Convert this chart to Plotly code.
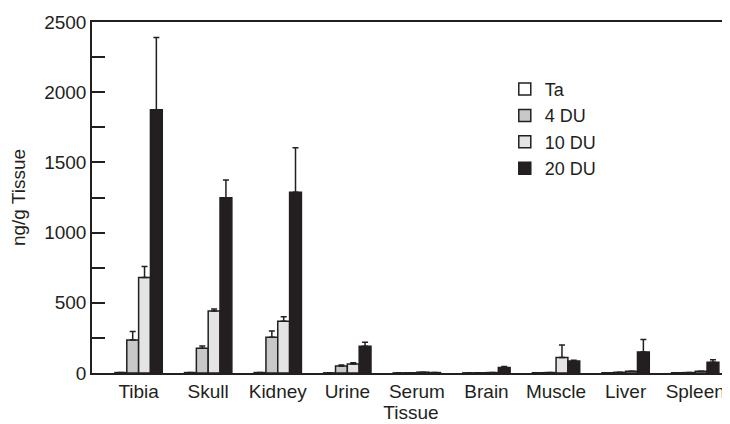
import plotly.graph_objects as go

categories = ["Tibia", "Skull", "Kidney", "Urine", "Serum", "Brain", "Muscle", "Liver", "Spleen"]
series_names = ["Ta", "4 DU", "10 DU", "20 DU"]
ta_vals = [3, 3, 3, 1, 1, 1, 2, 2, 2]
ta_err = [0, 0, 0, 0, 0, 0, 0, 0, 0]
du4_vals = [235, 176, 255, 50, 2, 2, 3, 5, 3]
du4_err = [60, 16, 45, 7, 0, 0, 0, 0, 0]
du10_vals = [680, 441, 368, 64, 6, 3, 110, 12, 12]
du10_err = [78, 15, 33, 9, 0, 0, 90, 0, 0]
du20_vals = [1875, 1248, 1287, 190, 3, 40, 85, 150, 76]
du20_err = [515, 127, 318, 29, 0, 7, 6, 88, 18]
y_ticks = [0, 500, 1000, 1500, 2000, 2500]

fills = ["#ffffff", "#c8c8c8", "#e4e4e5", "#231f20"]
dark = "#231f20"
font_family = "Liberation Sans, Arial, Helvetica, sans-serif"

fig = go.Figure()
for name, vals, errs, col in zip(series_names,
                                 [ta_vals, du4_vals, du10_vals, du20_vals],
                                 [ta_err, du4_err, du10_err, du20_err],
                                 fills):
    fig.add_trace(go.Bar(
        name=name, x=categories, y=vals,
        marker=dict(color=col, line=dict(color=dark, width=1.5)),
        error_y=dict(type="data", array=errs, arrayminus=[0] * len(errs),
                     symmetric=False, color=dark, thickness=1.5, width=3),
    ))

# right-side mirror ticks via an invisible overlay axis
fig.add_trace(go.Scatter(x=[categories[0]], y=[0], yaxis="y2", mode="markers",
                         marker=dict(opacity=0), showlegend=False, hoverinfo="skip"))

fig.update_layout(
    width=722, height=416,
    margin=dict(l=84, r=0, t=14, b=51),
    paper_bgcolor="white", plot_bgcolor="white",
    barmode="group", bargap=0.32, bargroupgap=0,
    font=dict(family=font_family, size=19, color=dark),
    showlegend=True,
    legend=dict(x=0.647, y=0.861, xanchor="left", yanchor="top",
                bgcolor="rgba(0,0,0,0)", font=dict(size=18, color=dark),
                tracegroupgap=0, itemwidth=30),
    xaxis=dict(range=[-0.67, 8.5], showline=True, linecolor=dark, linewidth=1.5,
               mirror=True, ticks="", showgrid=False, zeroline=False, automargin=False,
               title=dict(text="Tissue", standoff=2, font=dict(size=19)),
               tickfont=dict(size=19)),
    yaxis=dict(range=[0, 2500], tickvals=y_ticks, ticktext=[str(v) for v in y_ticks],
               showline=True, linecolor=dark, linewidth=1.5, ticks="inside",
               ticklen=13, tickwidth=1.5, tickcolor=dark, automargin=False,
               minor=dict(dtick=250, ticks="inside", ticklen=13, tickwidth=1.5, tickcolor=dark),
               showgrid=False, zeroline=False,
               title=dict(text="ng/g Tissue", standoff=16, font=dict(size=19)),
               tickfont=dict(size=19)),
    yaxis2=dict(range=[0, 2500], overlaying="y", side="right", dtick=250,
                ticks="inside", ticklen=4, tickwidth=1.5, tickcolor=dark, automargin=False,
                showticklabels=False, showline=False, showgrid=False, zeroline=False),
)

fig.write_html("out.html")
